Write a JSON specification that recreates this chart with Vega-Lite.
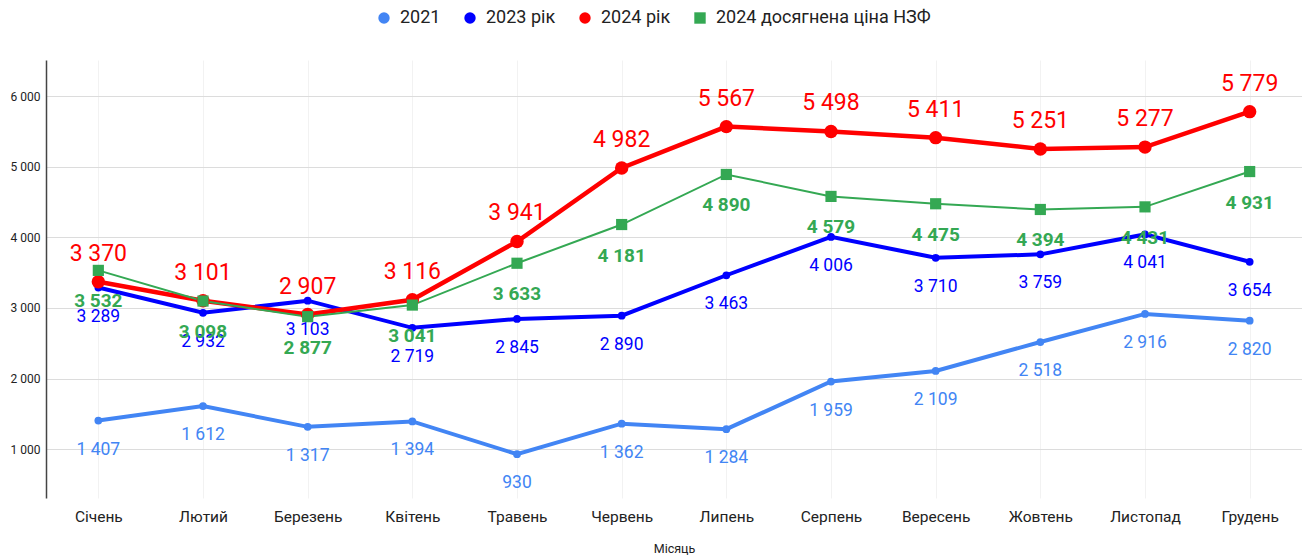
{
  "$schema": "https://vega.github.io/schema/vega-lite/v6.json",
  "autosize": {"type": "none"},
  "width": 1256,
  "height": 438,
  "padding": {"left": 46, "top": 60, "right": 0, "bottom": 62},
  "background": "white",
  "config": {
    "view": {"stroke": null},
    "font": "Roboto",
    "locale": {"number": {"decimal": ",", "thousands": " ", "grouping": [3], "currency": ["", ""]}}
  },
  "data": {
    "values": [
      {"m": "Січень", "s": "2021", "v": 1407},
      {"m": "Лютий", "s": "2021", "v": 1612},
      {"m": "Березень", "s": "2021", "v": 1317},
      {"m": "Квітень", "s": "2021", "v": 1394},
      {"m": "Травень", "s": "2021", "v": 930},
      {"m": "Червень", "s": "2021", "v": 1362},
      {"m": "Липень", "s": "2021", "v": 1284},
      {"m": "Серпень", "s": "2021", "v": 1959},
      {"m": "Вересень", "s": "2021", "v": 2109},
      {"m": "Жовтень", "s": "2021", "v": 2518},
      {"m": "Листопад", "s": "2021", "v": 2916},
      {"m": "Грудень", "s": "2021", "v": 2820},
      {"m": "Січень", "s": "2023 рік", "v": 3289},
      {"m": "Лютий", "s": "2023 рік", "v": 2932},
      {"m": "Березень", "s": "2023 рік", "v": 3103},
      {"m": "Квітень", "s": "2023 рік", "v": 2719},
      {"m": "Травень", "s": "2023 рік", "v": 2845},
      {"m": "Червень", "s": "2023 рік", "v": 2890},
      {"m": "Липень", "s": "2023 рік", "v": 3463},
      {"m": "Серпень", "s": "2023 рік", "v": 4006},
      {"m": "Вересень", "s": "2023 рік", "v": 3710},
      {"m": "Жовтень", "s": "2023 рік", "v": 3759},
      {"m": "Листопад", "s": "2023 рік", "v": 4041},
      {"m": "Грудень", "s": "2023 рік", "v": 3654},
      {"m": "Січень", "s": "2024 рік", "v": 3370},
      {"m": "Лютий", "s": "2024 рік", "v": 3101},
      {"m": "Березень", "s": "2024 рік", "v": 2907},
      {"m": "Квітень", "s": "2024 рік", "v": 3116},
      {"m": "Травень", "s": "2024 рік", "v": 3941},
      {"m": "Червень", "s": "2024 рік", "v": 4982},
      {"m": "Липень", "s": "2024 рік", "v": 5567},
      {"m": "Серпень", "s": "2024 рік", "v": 5498},
      {"m": "Вересень", "s": "2024 рік", "v": 5411},
      {"m": "Жовтень", "s": "2024 рік", "v": 5251},
      {"m": "Листопад", "s": "2024 рік", "v": 5277},
      {"m": "Грудень", "s": "2024 рік", "v": 5779},
      {"m": "Січень", "s": "2024 досягнена ціна НЗФ", "v": 3532},
      {"m": "Лютий", "s": "2024 досягнена ціна НЗФ", "v": 3098},
      {"m": "Березень", "s": "2024 досягнена ціна НЗФ", "v": 2877},
      {"m": "Квітень", "s": "2024 досягнена ціна НЗФ", "v": 3041},
      {"m": "Травень", "s": "2024 досягнена ціна НЗФ", "v": 3633},
      {"m": "Червень", "s": "2024 досягнена ціна НЗФ", "v": 4181},
      {"m": "Липень", "s": "2024 досягнена ціна НЗФ", "v": 4890},
      {"m": "Серпень", "s": "2024 досягнена ціна НЗФ", "v": 4579},
      {"m": "Вересень", "s": "2024 досягнена ціна НЗФ", "v": 4475},
      {"m": "Жовтень", "s": "2024 досягнена ціна НЗФ", "v": 4394},
      {"m": "Листопад", "s": "2024 досягнена ціна НЗФ", "v": 4431},
      {"m": "Грудень", "s": "2024 досягнена ціна НЗФ", "v": 4931}
    ]
  },
  "encoding": {
    "x": {
      "field": "m", "type": "nominal",
      "scale": {"type": "point", "padding": 0.5, "domain": ["Січень","Лютий","Березень","Квітень","Травень","Червень","Липень","Серпень","Вересень","Жовтень","Листопад","Грудень"]},
      "axis": {"title": "Місяць", "titleFontSize": 12.5, "titleFontWeight": "normal", "titleColor": "#222", "titlePadding": 18,
               "labelAngle": 0, "labelFontSize": 15.5, "labelColor": "#222", "labelPadding": 11,
               "domain": false, "ticks": false, "grid": true, "gridColor": "#f2f2f2", "gridWidth": 1}
    },
    "y": {
      "field": "v", "type": "quantitative",
      "scale": {"domain": [310, 6510], "nice": false, "zero": false},
      "axis": {"title": null, "values": [1000,2000,3000,4000,5000,6000], "format": ",d",
               "labelFontSize": 12, "labelColor": "#222", "labelPadding": 6, "ticks": false,
               "domain": true, "domainColor": "#444", "domainWidth": 1.5,
               "grid": true, "gridColor": "#dcdcdc", "gridWidth": 1}
    }
  },
  "layer": [
    {"transform": [{"filter": "datum.s === '2021'"}], "mark": {"type": "line", "color": "#4285F4", "strokeWidth": 4}},
    {"transform": [{"filter": "datum.s === '2023 рік'"}], "mark": {"type": "line", "color": "#0000FF", "strokeWidth": 4}},
    {"transform": [{"filter": "datum.s === '2024 рік'"}], "mark": {"type": "line", "color": "#FF0000", "strokeWidth": 4.5}},
    {"transform": [{"filter": "datum.s === '2024 досягнена ціна НЗФ'"}], "mark": {"type": "line", "color": "#34A853", "strokeWidth": 2}},
    {
      "mark": {"type": "point", "filled": true, "opacity": 1, "size": 60},
      "encoding": {
        "color": {"field": "s", "type": "nominal",
          "scale": {"domain": ["2021","2023 рік","2024 рік","2024 досягнена ціна НЗФ"], "range": ["#4285F4","#0000FF","#FF0000","#34A853"]},
          "legend": {"title": null, "orient": "none", "direction": "horizontal", "legendX": 329, "legendY": -51,
                     "labelFontSize": 18, "labelColor": "#222", "labelLimit": 400, "symbolSize": 130, "labelOffset": 7, "columnPadding": 20, "symbolStrokeWidth": 0,
                     "encode": {"symbols": {"update": {"size": {"value": 130}}}}}},
        "shape": {"field": "s", "type": "nominal",
          "scale": {"domain": ["2021","2023 рік","2024 рік","2024 досягнена ціна НЗФ"], "range": ["circle","circle","circle","square"]}}
      }
    },
    {"transform": [{"filter": "datum.s === '2024 рік'"}], "mark": {"type": "point", "filled": true, "opacity": 1, "shape": "circle", "size": 180, "color": "#FF0000"}},
    {"transform": [{"filter": "datum.s === '2024 досягнена ціна НЗФ'"}], "mark": {"type": "point", "filled": true, "opacity": 1, "shape": "square", "size": 125, "color": "#34A853"}},
    {"transform": [{"filter": "datum.s === '2021'"}], "mark": {"type": "text", "color": "#4285F4", "fontSize": 17.5, "dy": 29},
     "encoding": {"text": {"field": "v", "type": "quantitative", "format": ",d"}}},
    {"transform": [{"filter": "datum.s === '2023 рік'"}], "mark": {"type": "text", "color": "#0000FF", "fontSize": 17.5, "dy": 29},
     "encoding": {"text": {"field": "v", "type": "quantitative", "format": ",d"}}},
    {"transform": [{"filter": "datum.s === '2024 рік'"}], "mark": {"type": "text", "color": "#FF0000", "fontSize": 23, "dy": -28},
     "encoding": {"text": {"field": "v", "type": "quantitative", "format": ",d"}}},
    {"transform": [{"filter": "datum.s === '2024 досягнена ціна НЗФ'"}], "mark": {"type": "text", "color": "#34A853", "fontSize": 19, "fontWeight": "bold", "dy": 31},
     "encoding": {"text": {"field": "v", "type": "quantitative", "format": ",d"}}}
  ]
}
